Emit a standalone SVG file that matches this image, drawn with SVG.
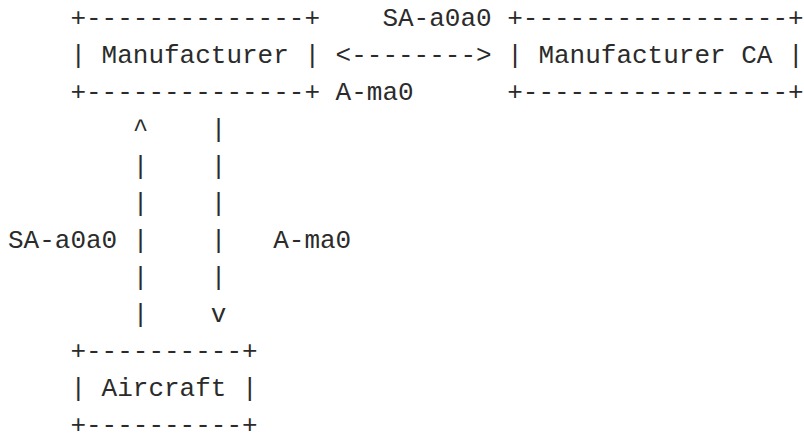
<svg xmlns="http://www.w3.org/2000/svg" width="804" height="435" viewBox="0 0 804 435">
<style>
text { font-family: "Liberation Mono", "DejaVu Sans Mono", monospace; font-size: 26px; fill: #2b2b2b; white-space: pre; }
</style>
<rect width="804" height="435" fill="#ffffff"/>
<g id="node-manufacturer">
<text x="70.4" y="26" xml:space="preserve">+--------------+</text>
<text x="70.4" y="63" xml:space="preserve">| Manufacturer |</text>
<text x="70.4" y="100" xml:space="preserve">+--------------+</text>
</g>
<g id="node-manufacturer-ca">
<text x="507.2" y="26" xml:space="preserve">+-----------------+</text>
<text x="507.2" y="63" xml:space="preserve">| Manufacturer CA |</text>
<text x="507.2" y="100" xml:space="preserve">+-----------------+</text>
</g>
<g id="node-aircraft">
<text x="70.4" y="359" xml:space="preserve">+----------+</text>
<text x="70.4" y="396" xml:space="preserve">| Aircraft |</text>
<text x="70.4" y="433" xml:space="preserve">+----------+</text>
</g>
<g id="connectors">
<text x="335.6" y="63" xml:space="preserve">&lt;--------&gt;</text>
<text x="132.8" y="137">^</text>
<text x="132.8" y="174">|</text>
<text x="132.8" y="211">|</text>
<text x="132.8" y="248">|</text>
<text x="132.8" y="285">|</text>
<text x="132.8" y="322">|</text>
<text x="210.8" y="137">|</text>
<text x="210.8" y="174">|</text>
<text x="210.8" y="211">|</text>
<text x="210.8" y="248">|</text>
<text x="210.8" y="285">|</text>
<text x="210.8" y="322">v</text>
</g>
<g id="labels">
<text x="382.4" y="26">SA-a0a0</text>
<text x="335.6" y="100">A-ma0</text>
<text x="8" y="248">SA-a0a0</text>
<text x="273.2" y="248">A-ma0</text>
</g>
</svg>
